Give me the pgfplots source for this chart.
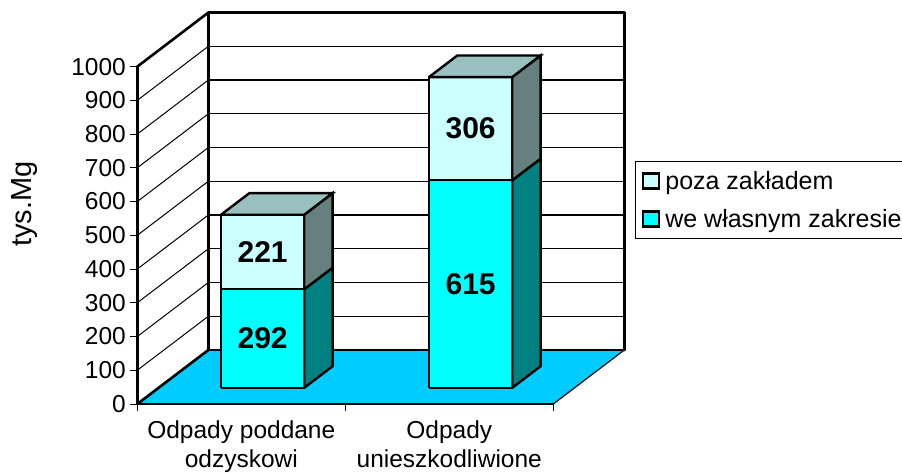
\documentclass[border=0pt]{standalone}
\usepackage{pgfplots}
\pgfplotsset{compat=1.18}
\usepackage{fontspec}
\setmainfont{Liberation Sans}
\definecolor{lightface}{HTML}{CCFFFF}
\definecolor{lighttop}{HTML}{99BFBF}
\definecolor{lightside}{HTML}{668080}
\definecolor{cyanface}{HTML}{00FFFF}
\definecolor{cyanside}{HTML}{008080}
\definecolor{floorcol}{HTML}{00CCFF}
\pgfplotsset{
  face/.style={draw=black,line width=2.4pt,line join=miter,no markers,forget plot},
  thinline/.style={draw=black,line width=1pt,no markers,forget plot},
  midline/.style={draw=black,line width=1.2pt,no markers,forget plot},
  thickline/.style={draw=black,line width=2.6pt,no markers,forget plot,line cap=round},
}
\begin{document}
\begin{tikzpicture}[x=1pt,y=1pt]
\path[use as bounding box] (0,0) rectangle (902,472);
\begin{axis}[
  at={(137.3pt,68pt)}, anchor=origin,
  x={(208pt,0pt)}, y={(71pt,54pt)}, z={(0pt,0.3374pt)},
  xmin=0, xmax=2, ymin=0, ymax=1, zmin=0, zmax=1000,
  clip=false,
  axis line style={draw=none},
  font=\fontsize{24.5}{28.5}\selectfont,
  /pgf/number format/assume math mode=true,
  /pgf/number format/1000 sep={},
  ytick=\empty,
  ztick={0,100,200,300,400,500,600,700,800,900,1000},
  zticklabel pos=left,
  xtick={0.5,1.5},
  xticklabels={{Odpady poddane\\odzyskowi},{Odpady\\unieszkodliwione}},
  xticklabel pos=lower,
  xticklabel style={anchor=north,inner sep=0pt,align=center,font=\fontsize{24.5}{28.5}\selectfont,yshift=-17pt},
  zticklabel style={anchor=east,inner sep=0pt,xshift=-11.3pt,font=\fontsize{24.5}{29}\selectfont},
  major tick style={draw=none},
  major tick length=0pt,
  zlabel={tys.Mg},
  zlabel style={at={(axis cs:-0.54,0,593)},anchor=center,rotate=0,font=\fontsize{29}{31}\selectfont},
  legend style={at={(axis cs:2.393,0,721)},anchor=north west,draw=black,line width=0.8pt,
    font=\fontsize{25}{29}\selectfont,inner xsep=6.4pt,inner ysep=10pt,row sep=18.5pt,
    nodes={inner sep=0pt,anchor=west}},
  legend cell align=left,
]
% legend entries
\addlegendimage{legend image code/.code={\draw[black,line width=2.2pt,fill=lightface] (0pt,-7.5pt) rectangle (16pt,7.5pt); \path (22pt,0pt);}}
\addlegendentry{poza zakładem}
\addlegendimage{legend image code/.code={\draw[black,line width=2.2pt,fill=cyanface] (0pt,-7.5pt) rectangle (16pt,7.5pt); \path (22pt,0pt);}}
\addlegendentry{we własnym zakresie}

% tick marks
\pgfplotsinvokeforeach{0,100,200,300,400,500,600,700,800,900,1000}{
  \addplot3[thinline] coordinates {(-0.0337,0,#1) (0,0,#1)};
}
\pgfplotsinvokeforeach{0,1,2}{
  \addplot3[thinline] coordinates {(#1,0,-20.7) (#1,0,0)};
}
% side wall and back wall gridlines
\pgfplotsinvokeforeach{100,200,300,400,500,600,700,800,900}{
  \addplot3[thinline] coordinates {(0,0,#1) (0,1,#1)};
  \addplot3[midline] coordinates {(0,1,#1) (2,1,#1)};
}
% floor
\addplot3[fill=floorcol,draw=none,no markers,forget plot] coordinates {(0,0,0) (2,0,0) (2,1,0) (0,1,0) (0,0,0)};
\addplot3[thickline] coordinates {(0,0,0) (0,1,0)};
\addplot3[thickline] coordinates {(0,1,0) (2,1,0)};
\addplot3[midline] coordinates {(0,0,0) (2,0,0)};
\addplot3[midline] coordinates {(2,0,0) (2,1,0)};
% walls frame
\addplot3[thickline] coordinates {(0,0,0) (0,0,1000)};
\addplot3[thickline] coordinates {(0,0,1000) (0,1,1000)};
\addplot3[thickline] coordinates {(0,1,0) (0,1,1000)};
\addplot3[thickline] coordinates {(0,1,1000) (2,1,1000)};
\addplot3[thickline] coordinates {(2,1,0) (2,1,1000)};

% bar 1: 292 + 221 = 513
\addplot3[face,fill=cyanside] coordinates {(0.7,0.3,0) (0.7,0.7,0) (0.7,0.7,292) (0.7,0.3,292) (0.7,0.3,0)};
\addplot3[face,fill=cyanface] coordinates {(0.3,0.3,0) (0.7,0.3,0) (0.7,0.3,292) (0.3,0.3,292) (0.3,0.3,0)};
\addplot3[face,fill=lightside] coordinates {(0.7,0.3,292) (0.7,0.7,292) (0.7,0.7,513) (0.7,0.3,513) (0.7,0.3,292)};
\addplot3[face,fill=lightface] coordinates {(0.3,0.3,292) (0.7,0.3,292) (0.7,0.3,513) (0.3,0.3,513) (0.3,0.3,292)};
\addplot3[face,fill=lighttop] coordinates {(0.3,0.3,513) (0.7,0.3,513) (0.7,0.7,513) (0.3,0.7,513) (0.3,0.3,513)};
% bar 2: 615 + 306 = 921
\addplot3[face,fill=cyanside] coordinates {(1.7,0.3,0) (1.7,0.7,0) (1.7,0.7,615) (1.7,0.3,615) (1.7,0.3,0)};
\addplot3[face,fill=cyanface] coordinates {(1.3,0.3,0) (1.7,0.3,0) (1.7,0.3,615) (1.3,0.3,615) (1.3,0.3,0)};
\addplot3[face,fill=lightside] coordinates {(1.7,0.3,615) (1.7,0.7,615) (1.7,0.7,921) (1.7,0.3,921) (1.7,0.3,615)};
\addplot3[face,fill=lightface] coordinates {(1.3,0.3,615) (1.7,0.3,615) (1.7,0.3,921) (1.3,0.3,921) (1.3,0.3,615)};
\addplot3[face,fill=lighttop] coordinates {(1.3,0.3,921) (1.7,0.3,921) (1.7,0.7,921) (1.3,0.7,921) (1.3,0.3,921)};

% data labels
\node[font=\fontsize{30}{31}\selectfont\bfseries] at (axis cs:0.5,0.3,146) {292};
\node[font=\fontsize{30}{31}\selectfont\bfseries] at (axis cs:0.5,0.3,402.5) {221};
\node[font=\fontsize{30}{31}\selectfont\bfseries] at (axis cs:1.5,0.3,307.5) {615};
\node[font=\fontsize{30}{31}\selectfont\bfseries] at (axis cs:1.5,0.3,768) {306};
\end{axis}
\end{tikzpicture}
\end{document}
